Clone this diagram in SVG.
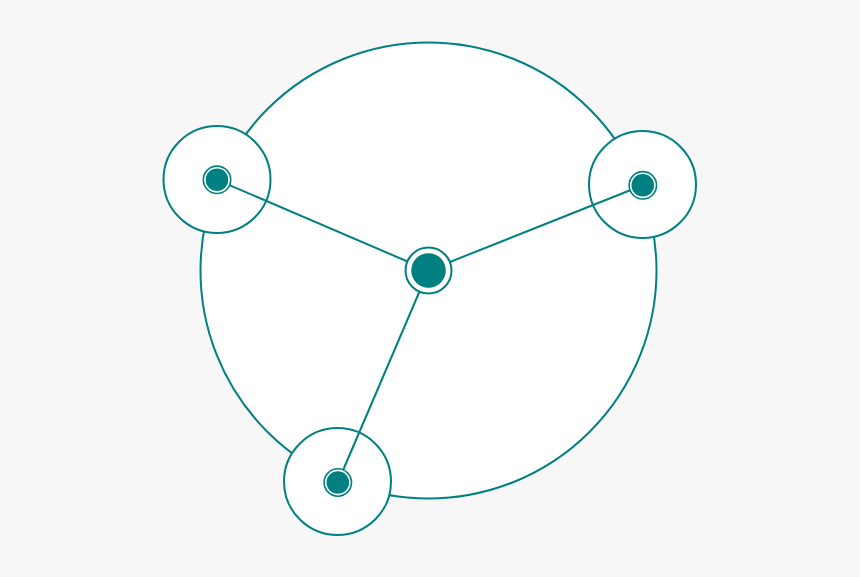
<svg xmlns="http://www.w3.org/2000/svg" width="860" height="577" viewBox="0 0 860 577">
<style>
.ring{fill:#ffffff;stroke:#008080;stroke-width:2}
.edge{stroke:#008080;stroke-width:2;fill:none}
.nring{fill:#ffffff;stroke:#008080;stroke-width:1.6}
.dot{fill:#008080}
</style>
<rect width="860" height="577" fill="#f7f7f7"/>
<g id="outer-circle"><circle class="ring" cx="428.5" cy="270.5" r="228"/></g>
<g id="zone-1"><circle class="ring" cx="217" cy="179.5" r="53.5"/></g>
<g id="zone-2"><circle class="ring" cx="642.5" cy="184.5" r="53.5"/></g>
<g id="zone-3"><circle class="ring" cx="337.5" cy="481.5" r="53.5"/></g>
<g id="connectors">
<line class="edge" x1="428.5" y1="270.5" x2="217" y2="179.8"/>
<line class="edge" x1="428.5" y1="270.5" x2="642.8" y2="185.3"/>
<line class="edge" x1="428.5" y1="270.5" x2="337.8" y2="482.5"/>
</g>
<g id="hub"><circle class="ring" cx="428.5" cy="270.5" r="23"/><circle class="dot" cx="428.5" cy="270.5" r="17.3"/></g>
<g id="node-1"><circle class="nring" cx="217" cy="179.8" r="13.7"/><circle class="dot" cx="217" cy="179.8" r="11.3"/></g>
<g id="node-2"><circle class="nring" cx="642.8" cy="185.3" r="13.7"/><circle class="dot" cx="642.8" cy="185.3" r="11.3"/></g>
<g id="node-3"><circle class="nring" cx="337.8" cy="482.5" r="13.7"/><circle class="dot" cx="337.8" cy="482.5" r="11.3"/></g>
</svg>
